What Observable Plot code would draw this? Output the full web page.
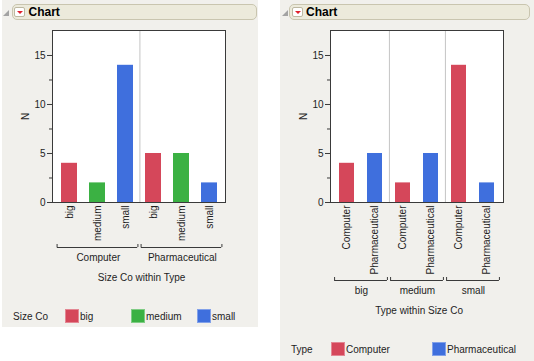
<!DOCTYPE html>
<html>
<head>
<meta charset="utf-8">
<script src="https://cdn.jsdelivr.net/npm/d3@7"></script>
<script src="https://cdn.jsdelivr.net/npm/@observablehq/plot@0.6"></script>
<style>
  html, body { margin: 0; padding: 0; background: #ffffff; }
  body { width: 534px; height: 361px; position: relative; overflow: hidden;
         font-family: "Liberation Sans", Arial, sans-serif; color: #1e1e1e; }
  .panel { position: absolute; background: #F1F0EC; }
  .hdr { position: absolute; height: 16px; background: #ECEADB; border: 1px solid #C9C5AF;
         border-radius: 5px; box-sizing: border-box; }
  .tri { position: absolute; width: 0; height: 0; border-left: 6px solid transparent;
         border-bottom: 6px solid #A3A3A3; }
  .btn { position: absolute; width: 11px; height: 10px; box-sizing: border-box; background: #fff;
         border: 1px solid #BDB8A2; border-radius: 2px; }
  .btn::after { content: ""; position: absolute; left: 1.5px; top: 2.5px; width: 0; height: 0;
         border-left: 3px solid transparent; border-right: 3px solid transparent; border-top: 3px solid #E0202C; }
  .ttl { position: absolute; font-weight: bold; font-size: 12px; line-height: 16px; color: #000; }
  .chart { position: absolute; }
  .legend { position: absolute; display: flex; align-items: center; font-size: 10px; height: 14px; }
  .legend .item { display: flex; align-items: center; }
  .legend .sw { width: 14px; height: 14px; box-sizing: border-box; margin-right: 1px;
         box-shadow: inset 0 0 0 1px rgba(255,255,255,0.35); }
</style>
</head>
<body>
<div class="panel" style="left:2px;top:0;width:256px;height:327px"></div>
<div class="panel" style="left:280px;top:0;width:254px;height:361px"></div>

<div class="tri" style="left:3px;top:10px"></div>
<div class="hdr" style="left:12px;top:4px;width:245px"></div>
<div class="btn" style="left:14px;top:7px"></div>
<div class="ttl" style="left:28.5px;top:4px">Chart</div>

<div class="tri" style="left:282px;top:10px"></div>
<div class="hdr" style="left:289px;top:4px;width:241px"></div>
<div class="btn" style="left:292px;top:7px"></div>
<div class="ttl" style="left:306px;top:4px">Chart</div>

<div id="left" class="chart" style="left:0;top:22px"></div>
<div id="right" class="chart" style="left:280px;top:22px"></div>
<div id="legL" class="legend" style="left:13px;top:309px"></div>
<div id="legR" class="legend" style="left:291px;top:342px"></div>

<script>
// ---- data ----
const types = ["Computer", "Pharmaceutical"];
const sizes = ["big", "medium", "small"];
const nComputer = [4, 2, 14];        // by size: big, medium, small
const nPharmaceutical = [5, 5, 2];   // by size: big, medium, small
const sizeColors = ["#D5475A", "#3BB143", "#3F6FDD"];
const typeColors = ["#D5475A", "#3F6FDD"];
const yTicks = [0, 5, 10, 15];
const yMinorTicks = [2.5, 7.5, 12.5];
const yMax = 17.55;

const countsByType = {Computer: nComputer, Pharmaceutical: nPharmaceutical};

function count(type, size) { return countsByType[type][sizes.indexOf(size)]; }

// Size Co within Type
const rowsL = [];
types.forEach(t => sizes.forEach(s => rowsL.push({outer: t, inner: s, key: t + "|" + s, n: count(t, s), color: s})));
// Type within Size Co
const rowsR = [];
sizes.forEach(s => types.forEach(t => rowsR.push({outer: s, inner: t, key: s + "|" + t, n: count(t, s), color: t})));

const FONT = "Liberation Sans, Arial, sans-serif";
const INK = "#1e1e1e";

function makeChart(cfg) {
  const {rows, outers, inners, colorDomain, colorRange, width, height, ml, mr, mt, mb, pad,
         bracketDy, groupDy, titleDy, title} = cfg;
  const keys = rows.map(d => d.key);
  const step = (width - ml - mr) / keys.length;
  const groups = outers.map(o => ({name: o, first: o + "|" + inners[0], last: o + "|" + inners[inners.length - 1]}));
  const ext = step * pad / 2 - 2;
  const base = () => 0;
  return Plot.plot({
    width, height, marginLeft: ml, marginRight: mr, marginTop: mt, marginBottom: mb,
    style: {fontFamily: FONT, fontSize: "10px", background: "transparent", color: INK, overflow: "visible"},
    x: {domain: keys, paddingInner: pad, paddingOuter: pad / 2},
    y: {domain: [0, yMax]},
    color: {domain: colorDomain, range: colorRange},
    marks: [
      Plot.frame({fill: "white", stroke: null}),
      Plot.barY(rows, {x: "key", y: "n", fill: "color"}),
      Plot.ruleX(groups.slice(0, -1), {x: "last", dx: step / 2, stroke: "#C4C4C4"}),
      Plot.frame({stroke: "#3a3a3a"}),
      Plot.axisY({ticks: yTicks, tickSize: 5, tickPadding: 2, label: "N", labelAnchor: "center",
                  labelOffset: 31, labelArrow: false, fill: INK, stroke: "#3a3a3a"}),
      Plot.axisY({ticks: yMinorTicks, tickSize: 3, tickFormat: () => "", label: null, stroke: "#3a3a3a"}),
      Plot.axisX({tickRotate: -90, tickSize: 0, tickPadding: 3, label: null, fill: INK,
                  tickFormat: k => k.split("|")[1]}),
      // group brackets
      Plot.ruleY(groups, {x1: "first", x2: "last", y: base, dy: bracketDy,
                          insetLeft: -ext, insetRight: -ext, stroke: "#3a3a3a"}),
      Plot.ruleX(groups, {x: "first", y1: base, y2: base, dx: -(step / 2 - 2), dy: bracketDy,
                          insetTop: -3, stroke: "#3a3a3a"}),
      Plot.ruleX(groups, {x: "last", y1: base, y2: base, dx: (step / 2 - 2), dy: bracketDy,
                          insetTop: -3, stroke: "#3a3a3a"}),
      Plot.text(groups, {x: "first", y: base, text: "name", dx: (inners.length - 1) * step / 2,
                         dy: groupDy, lineAnchor: "middle", fill: INK, fontSize: 10}),
      Plot.text([title], {x: () => keys[0], y: base, text: d => d, dx: (keys.length - 1) * step / 2,
                          dy: titleDy, lineAnchor: "middle", fill: INK, fontSize: 10})
    ]
  });
}

document.getElementById("left").append(makeChart({
  rows: rowsL, outers: types, inners: sizes, colorDomain: sizes, colorRange: sizeColors,
  width: 258, height: 263, ml: 52, mr: 33, mt: 8, mb: 83, pad: 0.43,
  bracketDy: 45, groupDy: 55, titleDy: 75, title: "Size Co within Type"
}));

document.getElementById("right").append(makeChart({
  rows: rowsR, outers: sizes, inners: types, colorDomain: types, colorRange: typeColors,
  width: 254, height: 296, ml: 50, mr: 31, mt: 8, mb: 116, pad: 0.48,
  bracketDy: 78, groupDy: 88, titleDy: 108, title: "Type within Size Co"
}));

function legend(el, title, names, colors, titleW, itemW) {
  const t = document.createElement("div");
  t.textContent = title; t.style.width = titleW + "px";
  el.append(t);
  names.forEach((n, i) => {
    const it = document.createElement("div"); it.className = "item"; it.style.width = itemW + "px";
    const sw = document.createElement("div"); sw.className = "sw"; sw.style.background = colors[i];
    const lb = document.createElement("span"); lb.textContent = n;
    it.append(sw, lb); el.append(it);
  });
}
legend(document.getElementById("legL"), "Size Co", sizes, sizeColors, 52, 66);
legend(document.getElementById("legR"), "Type", types, typeColors, 40, 101);
</script>
</body>
</html>
